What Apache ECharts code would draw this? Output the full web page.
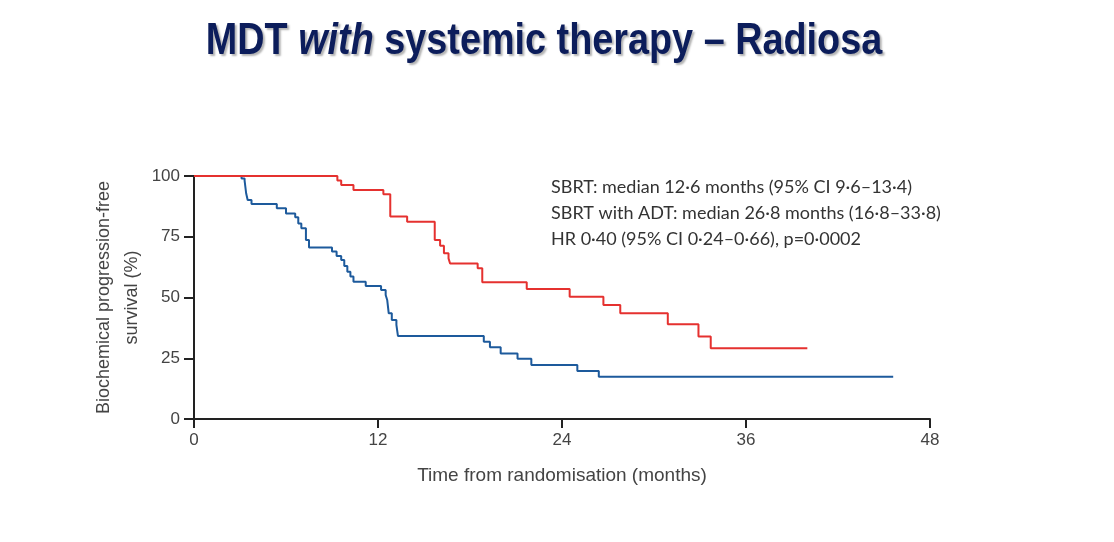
<html>
<head>
  <script src="https://cdnjs.cloudflare.com/ajax/libs/echarts/6.0.0/echarts.min.js"></script>
  <title>Radiosa</title>
</head>
<body style="margin: 0; overflow: hidden; background: #fff;">
  <div id="main" style="width: 1114px; height: 542px;"></div>
  <script>
    // Kaplan-Meier steps: [month, survival %]
    var sbrtSteps = [
      [0, 100], [3.1, 99], [3.3, 98.1], [3.4, 92.9], [3.5, 90.1], [3.75, 88.5],
      [5.4, 86.7], [6.0, 84.6], [6.6, 83.0], [6.8, 80.5], [7.0, 78.5], [7.3, 73.7],
      [7.5, 70.6], [9.0, 68.9], [9.3, 67.1], [9.6, 65.4], [9.8, 63.0], [10.0, 60.6],
      [10.2, 58.6], [10.4, 56.5], [11.2, 54.7], [12.2, 53.1], [12.5, 51.0], [12.6, 49.0],
      [12.7, 43.5], [12.9, 40.7], [13.2, 38.7], [13.3, 34.2], [18.9, 31.8], [19.3, 29.5],
      [20.0, 27.0], [21.1, 24.8], [22.0, 22.2], [25.0, 19.8], [26.4, 17.4], [45.6, 17.4]
    ];
    var sbrtAdtSteps = [
      [0, 100], [9.35, 98.1], [9.6, 96.3], [10.4, 94.2], [12.35, 92.5], [12.8, 83.3],
      [13.9, 81.2], [15.7, 73.7], [16.05, 71.3], [16.3, 68.2], [16.6, 66.1], [16.7, 64.0],
      [18.5, 62.0], [18.8, 56.3], [21.7, 53.5], [24.5, 50.3], [26.7, 46.9], [27.8, 43.5],
      [30.9, 39.0], [32.9, 33.9], [33.7, 29.1], [40.0, 29.1]
    ];
    var xTicks = [0, 12, 24, 36, 48];
    var yTicks = [0, 25, 50, 75, 100];
    var noteLines = [
      'SBRT: median 12·6 months (95% CI 9·6–13·4)',
      'SBRT with ADT: median 26·8 months (16·8–33·8)',
      'HR 0·40 (95% CI 0·24–0·66), p=0·0002'
    ];

    var myChart = echarts.init(document.getElementById('main'));
    var axisFont = '"Liberation Sans", Arial, sans-serif';
    var titleShadow = {
      fontFamily: axisFont, fontWeight: 'bold', fontSize: 45, fill: '#0c1d5b',
      textShadowColor: 'rgba(0,0,0,0.3)', textShadowOffsetX: 2, textShadowOffsetY: 2, textShadowBlur: 2
    };

    var option = {
      animation: false,
      grid: { left: 194, right: 184, top: 176, bottom: 123 },
      xAxis: {
        type: 'value',
        min: xTicks[0],
        max: xTicks[xTicks.length - 1],
        interval: 12,
        name: 'Time from randomisation (months)',
        nameLocation: 'middle',
        nameGap: 47,
        nameTextStyle: { fontFamily: axisFont, fontSize: 19, color: '#444' },
        axisLine: { lineStyle: { color: '#222', width: 2 } },
        axisTick: { length: 9, lineStyle: { color: '#222', width: 2 } },
        axisLabel: { fontFamily: axisFont, fontSize: 17, color: '#444', margin: 13 },
        splitLine: { show: false }
      },
      yAxis: {
        type: 'value',
        min: yTicks[0],
        max: yTicks[yTicks.length - 1],
        interval: 25,
        name: 'Biochemical progression-free\nsurvival (%)',
        nameLocation: 'middle',
        nameGap: 48,
        nameMoveOverlap: false,
        nameRotate: 90,
        nameTextStyle: { fontFamily: axisFont, fontSize: 18, color: '#444', lineHeight: 28 },
        axisLine: { show: true, lineStyle: { color: '#222', width: 2 } },
        axisTick: { show: true, length: 10, lineStyle: { color: '#222', width: 2 } },
        axisLabel: { fontFamily: axisFont, fontSize: 17, color: '#444', margin: 14 },
        splitLine: { show: false }
      },
      graphic: [
        {
          // condensed bold heading
          type: 'text',
          x: 544,
          y: 42,
          scaleX: 0.84,
          style: {
            text: '{b|MDT }{i|with}{b| systemic therapy – Radiosa}',
            align: 'center',
            verticalAlign: 'middle',
            rich: {
              b: titleShadow,
              i: Object.assign({}, titleShadow, { fontStyle: 'italic' })
            }
          }
        },
        {
          type: 'text',
          left: 551,
          top: 174,
          style: {
            text: noteLines.join('\n'),
            font: '18px Lato, "Noto Sans", sans-serif',
            lineHeight: 26,
            fill: '#333'
          }
        }
      ],
      series: [
        {
          name: 'SBRT',
          type: 'line',
          step: 'end',
          showSymbol: false,
          data: sbrtSteps,
          lineStyle: { color: '#1d5a9c', width: 2 },
          itemStyle: { color: '#1d5a9c' }
        },
        {
          name: 'SBRT with ADT',
          type: 'line',
          step: 'end',
          showSymbol: false,
          data: sbrtAdtSteps,
          lineStyle: { color: '#e5312f', width: 2 },
          itemStyle: { color: '#e5312f' }
        }
      ]
    };

    myChart.setOption(option);
  </script>
</body>
</html>
